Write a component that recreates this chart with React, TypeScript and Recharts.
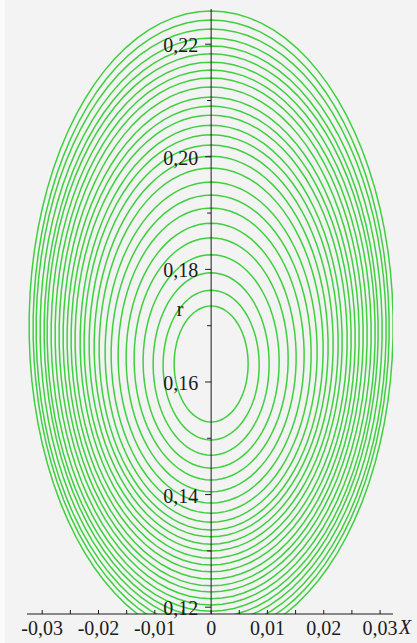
import { LineChart, Line, XAxis, YAxis, ReferenceLine, ReferenceDot } from "recharts";

// contour crossings on the r axis (top / bottom) and half widths in X, inner to outer
const contourTop = [
  0.1735, 0.1763, 0.1794, 0.1826, 0.1856, 0.1882, 0.1909, 0.1932, 0.1955,
  0.198, 0.2001, 0.2021, 0.2039, 0.2056, 0.2074, 0.209, 0.2106, 0.2124,
  0.214, 0.2154, 0.2168, 0.2183, 0.2197, 0.2211, 0.2227, 0.2243, 0.2259,
];
const contourBottom = [
  0.1529, 0.1497, 0.147, 0.1447, 0.1426, 0.1405, 0.1385, 0.1367, 0.1351,
  0.1337, 0.1325, 0.1312, 0.13, 0.1287, 0.1275, 0.1263, 0.125, 0.1238,
  0.1227, 0.1215, 0.1204, 0.1193, 0.1182, 0.1172, 0.1161, 0.115, 0.114,
];
const contourHalfWidth = [
  0.00657, 0.00853, 0.0103, 0.01208, 0.01368, 0.0151, 0.01652, 0.01776, 0.01883,
  0.01989, 0.02078, 0.02167, 0.02256, 0.02327, 0.02416, 0.02487, 0.02558, 0.02629,
  0.027, 0.02771, 0.02842, 0.02913, 0.02966, 0.03037, 0.03108, 0.03162, 0.03233,
];

const xTicks = [-0.03, -0.02, -0.01, 0, 0.01, 0.02, 0.03];
const xMinorTicks = [-0.025, -0.015, -0.005, 0.005, 0.015, 0.025];
const yTicks = [0.12, 0.14, 0.16, 0.18, 0.2, 0.22];
const yMinorTicks = [0.13, 0.15, 0.17, 0.19, 0.21];

const X_DOMAIN: [number, number] = [-0.0327, 0.0323];
const Y_DOMAIN: [number, number] = [0.11879, 0.22625];

const GREEN = "#3fd03f";
const INK = "#1c1c1c";
const FONT = "'Liberation Serif', 'Times New Roman', serif";

const fmt = (v: number) => (v === 0 ? "0" : v.toFixed(2).replace(".", ","));

// closed outline of one contour from its read crossings
function outline(i: number) {
  const c = (contourTop[i] + contourBottom[i]) / 2;
  const h = (contourTop[i] - contourBottom[i]) / 2;
  const w = contourHalfWidth[i];
  const pts: { x: number; y: number }[] = [];
  for (let a = 0; a <= 360; a += 4) {
    const t = (a * Math.PI) / 180;
    pts.push({ x: w * Math.sin(t), y: c + h * Math.cos(t) });
  }
  return pts;
}

const contours = contourTop.map((_, i) => outline(i));

export default function App() {
  return (
    <div
      style={{
        position: "fixed",
        left: 0,
        top: 0,
        width: 417,
        height: 643,
        background: "#f3f3f3",
        borderLeft: "5px solid #fbfbfb",
        boxSizing: "border-box",
      }}
    >
      <LineChart width={412} height={643} margin={{ top: 9, right: 24, bottom: 0, left: 22 }}>
        <XAxis
          type="number"
          dataKey="x"
          domain={X_DOMAIN}
          allowDataOverflow
          ticks={xTicks}
          tickFormatter={fmt}
          interval={0}
          height={29}
          tickSize={0}
          tickMargin={7}
          tickLine={false}
          axisLine={{ stroke: INK, strokeWidth: 1 }}
          tick={{ fill: INK, fontSize: 20, fontFamily: FONT }}
        />
        <YAxis type="number" dataKey="y" domain={Y_DOMAIN} allowDataOverflow hide />
        {contours.map((d, i) => (
          <Line
            key={i}
            data={d}
            dataKey="y"
            type="linear"
            stroke={GREEN}
            strokeWidth={1.5}
            dot={false}
            activeDot={false}
            isAnimationActive={false}
          />
        ))}
        <ReferenceLine x={0} stroke={INK} strokeWidth={1} />
        {[...xTicks, ...xMinorTicks].map((v) => (
          <ReferenceDot
            key={"xt" + v}
            x={v}
            y={Y_DOMAIN[0]}
            ifOverflow="visible"
            shape={(p: any) => (
              <line x1={p.cx} x2={p.cx} y1={p.cy} y2={p.cy - 4} stroke={INK} strokeWidth={1} />
            )}
          />
        ))}
        {yTicks.map((v) => (
          <ReferenceDot
            key={"yt" + v}
            x={0}
            y={v}
            ifOverflow="visible"
            shape={(p: any) => (
              <g>
                <line x1={p.cx - 6} x2={p.cx} y1={p.cy} y2={p.cy} stroke={INK} strokeWidth={1} />
                <text
                  x={p.cx - 13}
                  y={p.cy + 8}
                  textAnchor="end"
                  fill={INK}
                  fontSize={20}
                  fontFamily={FONT}
                >
                  {fmt(v)}
                </text>
              </g>
            )}
          />
        ))}
        {yMinorTicks.map((v) => (
          <ReferenceDot
            key={"ym" + v}
            x={0}
            y={v}
            ifOverflow="visible"
            shape={(p: any) => (
              <line x1={p.cx - 4} x2={p.cx} y1={p.cy} y2={p.cy} stroke={INK} strokeWidth={1} />
            )}
          />
        ))}
        <ReferenceDot
          x={0}
          y={0.1717}
          ifOverflow="visible"
          shape={(p: any) => (
            <text x={p.cx - 31} y={p.cy} textAnchor="middle" fill={INK} fontSize={20} fontFamily={FONT}>
              r
            </text>
          )}
        />
        <ReferenceDot
          x={X_DOMAIN[1]}
          y={Y_DOMAIN[0]}
          ifOverflow="visible"
          shape={(p: any) => (
            <text x={p.cx + 6} y={p.cy + 20} fill={INK} fontSize={20} fontStyle="italic" fontFamily={FONT}>
              X
            </text>
          )}
        />
      </LineChart>
    </div>
  );
}
